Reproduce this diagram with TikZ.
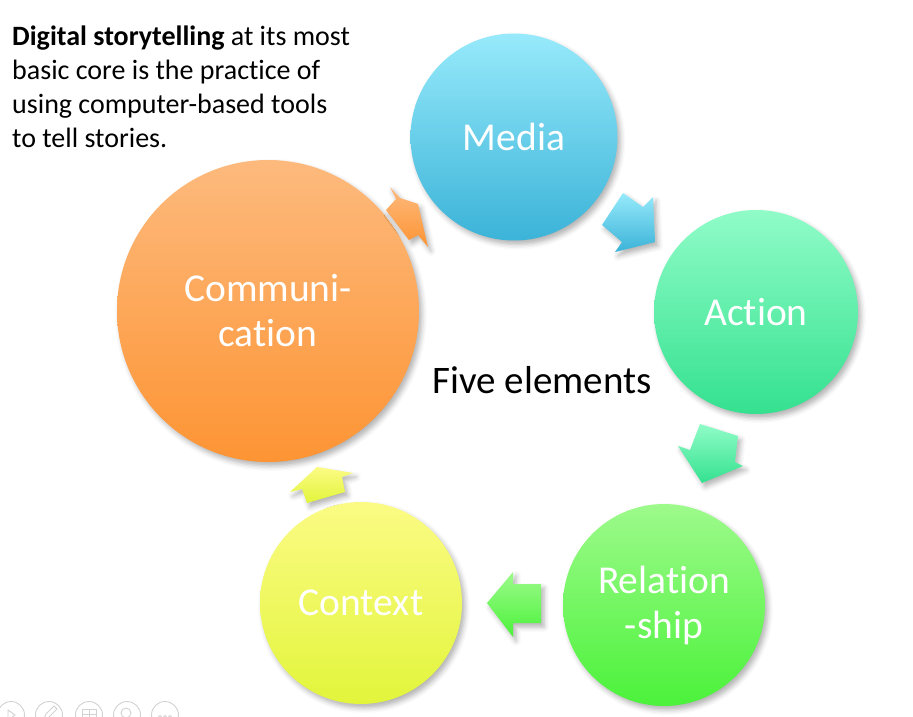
\documentclass[tikz,border=0pt]{standalone}
\usepackage{fontspec}
\setmainfont[Ligatures=NoCommon]{Carlito}
\usetikzlibrary{shadows.blur}
\definecolor{medTop}{HTML}{97EAFB}
\definecolor{medBot}{HTML}{3BB3D8}
\definecolor{actTop}{HTML}{90FCC8}
\definecolor{actBot}{HTML}{34E18F}
\definecolor{relTop}{HTML}{9DFA8B}
\definecolor{relBot}{HTML}{4BF23A}
\definecolor{conTop}{HTML}{FBFB84}
\definecolor{conBot}{HTML}{E2F53B}
\definecolor{comTop}{HTML}{FDBA7D}
\definecolor{comBot}{HTML}{FD9434}
\definecolor{iconGray}{HTML}{D2D2D2}
\begin{document}
\begin{tikzpicture}[x=1pt,y=-1pt,
  softshadow/.style={blur shadow={shadow xshift=3pt,shadow yshift=-4pt,shadow opacity=30,shadow blur radius=5pt}},
  ball/.style={circle,inner sep=0pt,text=white,align=center,
    font=\fontsize{39.5}{45}\selectfont,softshadow},
  blockarrow/.style={softshadow},
  intro/.style={anchor=base west,inner sep=0pt,font=\fontsize{28}{34}\selectfont},
  center label/.style={inner sep=0pt,font=\fontsize{39}{45}\selectfont},
  iconring/.style={circle,draw=iconGray,line width=0.9pt,minimum size=27pt,inner sep=0pt},
  iconline/.style={draw=iconGray,line width=0.9pt}]
\useasboundingbox (0,0) rectangle (913,717);

% circles
\node[ball,minimum size=207pt,top color=medTop,bottom color=medBot] (media) at (514,137) {Media};
\node[ball,minimum size=204pt,top color=actTop,bottom color=actBot] (action) at (756,312) {Action};
\node[ball,minimum size=202pt,top color=relTop,bottom color=relBot] (rel) at (664,605) {Relation\\-ship};
\node[ball,minimum size=202pt,top color=conTop,bottom color=conBot] (context) at (361,603) {Context};
\node[ball,minimum size=302pt,top color=comTop,bottom color=comBot] (comm) at (268,311) {Communi-\\cation};

% block arrows
\path[blockarrow,top color=comTop,bottom color=comBot]
  (390,187) -- (400,198) -- (418,204) -- (428,247) -- (418,235) -- (409,240) -- (386,210) -- (396,199) -- cycle;
\path[blockarrow,top color=medTop,bottom color=medBot]
  (623,193) -- (643,207) -- (653,197) -- (655,242) -- (615,252) -- (622,242) -- (602,225) -- cycle;
\path[blockarrow,top color=actTop,bottom color=actBot]
  (700,424) -- (738,436) -- (735,462) -- (743,466) -- (702,483) -- (678,446) -- (690,450) -- cycle;
\path[blockarrow,top color=relTop,bottom color=relBot]
  (541,584) -- (541,623) -- (513,623) -- (513,637) -- (487,603) -- (513,572) -- (513,584) -- cycle;
\path[blockarrow,top color=conTop,bottom color=conBot]
  (317,467) -- (353,473) -- (342,477) -- (345,492) -- (307,503) -- (302,489) -- (290,492) -- cycle;

% texts
\node[center label] (five) at (542,380) {Five elements};
\node[intro] (l1) at (12,46) {\textbf{Digital storytelling} at its most};
\node[intro] (l2) at (12,80) {basic core is the practice of};
\node[intro] (l3) at (12,113) {using computer-based tools};
\node[intro] (l4) at (12,147) {to tell stories.};

% slide-show controls
\node[iconring] (ic1) at (11,715) {};
\node[iconring] (ic2) at (49,715) {};
\node[iconring] (ic3) at (89,715) {};
\node[iconring] (ic4) at (127,715) {};
\node[iconring] (ic5) at (165,715) {};
\path[iconline] ([shift={(-3,-5)}]ic1.center) -- ++(7,5) -- ++(-7,5) -- cycle;
\path[iconline] ([shift={(-6,6)}]ic2.center) -- ++(3,-7) -- ++(8,-8) -- ++(3,3) -- ++(-8,8) -- cycle;
\path[iconline] ([shift={(-7,-6)}]ic3.center) rectangle ++(14,12);
\path[iconline] ([shift={(-7,-1)}]ic3.center) -- ++(14,0);
\path[iconline] ([shift={(0,-6)}]ic3.center) -- ++(0,12);
\path[iconline] ([shift={(-1,-2)}]ic4.center) circle[radius=5pt];
\path[iconline] ([shift={(2,2)}]ic4.center) -- ++(5,5);
\path[iconline] ([shift={(-5,2)}]ic5.center) circle[radius=1.5pt] ++(5,0) circle[radius=1.5pt] ++(5,0) circle[radius=1.5pt];
\end{tikzpicture}
\end{document}
